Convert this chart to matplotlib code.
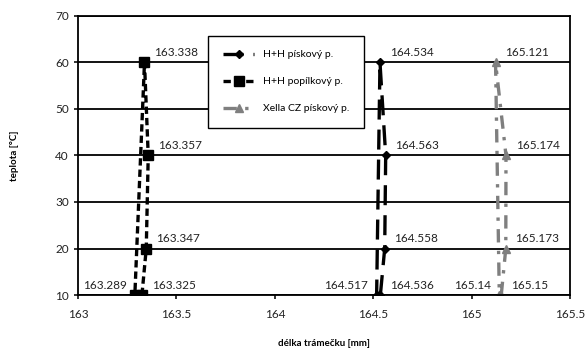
import matplotlib.pyplot as plt

plt.rcParams['font.family'] = ['Lato', 'DejaVu Sans']

# temperature cycle: 10 -> 20 -> 40 -> 60 -> back to 10
teplota = [10, 20, 40, 60, 10]
hh_piskovy = [164.536, 164.558, 164.563, 164.534, 164.517]
hh_popilkovy = [163.325, 163.347, 163.357, 163.338, 163.289]
xella_piskovy = [165.15, 165.173, 165.174, 165.121, 165.14]

fig = plt.figure(figsize=(5.86, 3.55), dpi=100)
ax = fig.add_axes([0.133, 0.169, 0.84, 0.786])

ax.plot(hh_piskovy, teplota, color='black', lw=2.4, ls=(0, (6, 3)),
        marker='D', ms=4, label='H+H pískový p.')
ax.plot(hh_popilkovy, teplota, color='black', lw=2.4, ls=(0, (2.2, 1.2)),
        marker='s', ms=7, label='H+H popílkový p.')
ax.plot(xella_piskovy, teplota, color='#7f7f7f', lw=2.4, ls=(0, (4, 2.5, 1, 2.5)),
        marker='^', ms=6, label='Xella CZ pískový p.')

# value labels next to each point; the returning point at 10 °C goes on the left
for series in (hh_piskovy, hh_popilkovy, xella_piskovy):
    for i, (x, y) in enumerate(zip(series, teplota)):
        txt = f'{x:.3f}'.rstrip('0')
        if i == len(series) - 1:
            ax.annotate(txt, (x, y), xytext=(-6, 3), textcoords='offset points',
                        ha='right', va='bottom', fontsize=8.5, color='#222222')
        else:
            ax.annotate(txt, (x, y), xytext=(7, 3), textcoords='offset points',
                        ha='left', va='bottom', fontsize=8.5, color='#222222')

ax.set_xlim(163, 165.5)
ax.set_ylim(10, 70)
ax.set_xticks([163, 163.5, 164, 164.5, 165, 165.5])
ax.set_xticklabels(['163', '163.5', '164', '164.5', '165', '165.5'])
ax.set_yticks(range(10, 71, 10))
ax.tick_params(labelsize=8.5, width=1.3, length=3, colors='#222222')
ax.tick_params(axis='x', pad=7)
ax.yaxis.grid(True, color='black', lw=1.3)
ax.set_axisbelow(True)
for s in ax.spines.values():
    s.set_linewidth(1.3)
    s.set_color('black')

ax.set_xlabel('délka trámečku [mm]', fontsize=7, fontweight='bold', labelpad=14)
ax.set_ylabel('teplota [°C]', fontsize=7, fontweight='bold', labelpad=26)

leg = ax.legend(loc='upper left', bbox_to_anchor=(0.265, 0.93), fontsize=7.5,
                frameon=True, fancybox=False, edgecolor='black', handlelength=3,
                borderpad=1.4, labelspacing=1.7, borderaxespad=0, framealpha=1)
leg.get_frame().set_linewidth(1.0)

fig.savefig('out.png', dpi=100)
